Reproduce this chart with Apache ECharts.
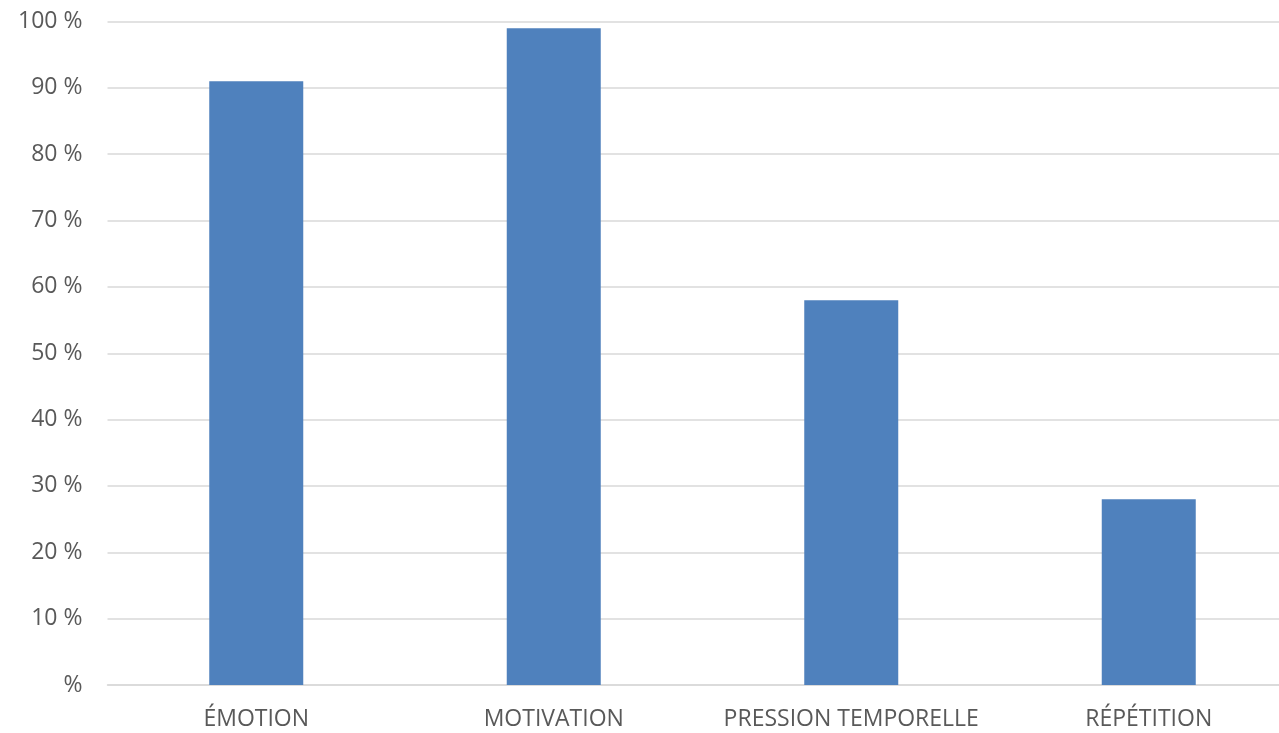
<!DOCTYPE html>
<html>
<head>
<meta charset="utf-8">
<script src="https://cdn.jsdelivr.net/npm/echarts@6/dist/echarts.min.js"></script>
<style>
html,body{margin:0;padding:0;background:#fff;overflow:hidden;}
#wrap{width:1279px;height:733px;overflow:hidden;}
#chart{width:1298px;height:733px;}
</style>
</head>
<body>
<div id="wrap"><div id="chart"></div></div>
<script>
const categories = ['ÉMOTION', 'MOTIVATION', 'PRESSION TEMPORELLE', 'RÉPÉTITION'];
const values = [91, 99, 58, 28];
const yTicks = [0, 10, 20, 30, 40, 50, 60, 70, 80, 90, 100];

const chart = echarts.init(document.getElementById('chart'));
chart.setOption({
  animation: false,
  grid: { left: 107.5, right: 0.5, top: 21.5, bottom: 48, containLabel: false },
  xAxis: {
    type: 'category',
    data: categories,
    axisLine: { show: true, lineStyle: { color: '#d9d9d9', width: 1.5 } },
    axisTick: { show: false },
    axisLabel: { color: '#595959', fontFamily: 'Open Sans', fontSize: 23, margin: 23, interval: 0 }
  },
  yAxis: {
    type: 'value',
    min: 0, max: 100, interval: 10,
    axisLine: { show: false },
    axisTick: { show: false },
    splitLine: { lineStyle: { color: '#d9d9d9', width: 1.5 } },
    axisLabel: {
      color: '#595959', fontFamily: 'Open Sans', fontSize: 23, margin: 25,
      formatter: v => yTicks.includes(v) ? (v === 0 ? '%' : v + ' %') : ''
    }
  },
  series: [{
    type: 'bar',
    data: values,
    barWidth: 94,
    itemStyle: { color: '#4f81bd' }
  }]
});
</script>
</body>
</html>
